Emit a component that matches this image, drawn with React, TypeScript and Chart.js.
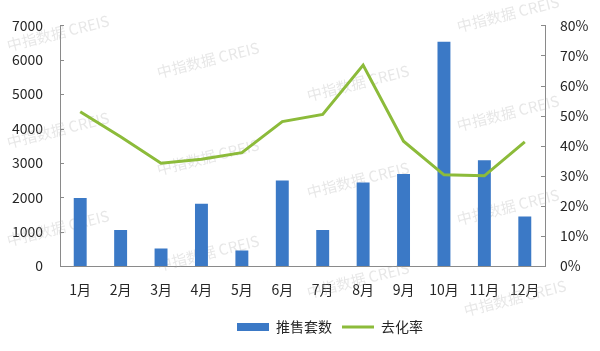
import React, { useEffect, useRef } from "react";
import { Chart, registerables } from "chart.js";

Chart.register(...registerables);

const months = ["1月", "2月", "3月", "4月", "5月", "6月", "7月", "8月", "9月", "10月", "11月", "12月"];
const supplyUnits = [1980, 1045, 510, 1810, 450, 2490, 1045, 2430, 2680, 6525, 3080, 1440];
const sellThroughRate = [51.3, 43.0, 34.2, 35.5, 37.7, 48.0, 50.4, 66.8, 41.5, 30.3, 30.0, 41.3];
const leftAxisMax = 7000;
const leftAxisStep = 1000;
const rightAxisMax = 80;
const rightAxisStep = 10;
const seriesNames = ["推售套数", "去化率"];
const watermarkText = "中指数据 CREIS";

const BAR_COLOR = "#3b79c6";
const LINE_COLOR = "#8cbb3a";
const AXIS_COLOR = "#8a8a8a";
const TEXT_COLOR = "#262626";
const FONT = "'Noto Sans CJK SC', 'Noto Sans', sans-serif";

const watermarkSpots: [number, number][] = [
  [58, 33], [58, 130], [58, 228],
  [208, 60], [208, 157], [208, 253],
  [358, 83], [358, 180], [358, 280],
  [508, 14], [508, 113], [508, 207], [515, 298],
];

const watermarkPlugin = {
  id: "watermark",
  beforeDatasetsDraw(chart: any) {
    const ctx = chart.ctx;
    ctx.save();
    ctx.font = `15px ${FONT}`;
    ctx.fillStyle = "rgba(170,170,170,0.28)";
    ctx.textAlign = "center";
    ctx.textBaseline = "middle";
    for (const [x, y] of watermarkSpots) {
      ctx.save();
      ctx.translate(x, y);
      ctx.rotate((-14 * Math.PI) / 180);
      ctx.fillText(watermarkText, 0, 0);
      ctx.restore();
    }
    ctx.restore();
  },
};

const tickMarkPlugin = {
  id: "innerTicks",
  afterDraw(chart: any) {
    const ctx = chart.ctx;
    const yl = chart.scales.y;
    const yr = chart.scales.y1;
    ctx.save();
    ctx.strokeStyle = AXIS_COLOR;
    ctx.lineWidth = 1;
    for (const t of yl.ticks) {
      const py = Math.round(yl.getPixelForValue(t.value)) + 0.5;
      ctx.beginPath();
      ctx.moveTo(yl.right, py);
      ctx.lineTo(yl.right + 4, py);
      ctx.stroke();
    }
    for (const t of yr.ticks) {
      const py = Math.round(yr.getPixelForValue(t.value)) + 0.5;
      ctx.beginPath();
      ctx.moveTo(yr.left, py);
      ctx.lineTo(yr.left - 4, py);
      ctx.stroke();
    }
    ctx.restore();
  },
};

const legendShiftPlugin = {
  id: "legendShift",
  afterLayout(chart: any) {
    const lg = chart.legend;
    if (lg) {
      lg.left += 30;
      lg.right += 30;
    }
  },
};

export default function App() {
  const ref = useRef<HTMLCanvasElement | null>(null);

  useEffect(() => {
    document.body.style.margin = "0";
    const canvas = ref.current;
    if (!canvas) return;
    const chart = new Chart(canvas, {
      type: "bar",
      data: {
        labels: months,
        datasets: [
          {
            type: "bar",
            label: seriesNames[0],
            data: supplyUnits,
            backgroundColor: BAR_COLOR,
            borderWidth: 0,
            barPercentage: 0.32,
            categoryPercentage: 1,
            yAxisID: "y",
            order: 2,
          },
          {
            type: "line",
            label: seriesNames[1],
            data: sellThroughRate,
            borderColor: LINE_COLOR,
            backgroundColor: LINE_COLOR,
            borderWidth: 3,
            pointRadius: 0,
            tension: 0,
            yAxisID: "y1",
            order: 1,
          } as any,
        ],
      },
      options: {
        animation: false,
        responsive: true,
        maintainAspectRatio: false,
        layout: { padding: { top: 18, bottom: 7, left: 0, right: 0 } },
        plugins: {
          tooltip: { enabled: false },
          legend: {
            position: "bottom",
            labels: {
              color: TEXT_COLOR,
              font: { size: 14, family: FONT },
              usePointStyle: true,
              pointStyleWidth: 32,
              boxHeight: 8,
              padding: 10,
              sort: (a: any, b: any) => a.datasetIndex - b.datasetIndex,
              generateLabels: () => [
                {
                  text: seriesNames[0],
                  fillStyle: BAR_COLOR,
                  strokeStyle: BAR_COLOR,
                  lineWidth: 0,
                  pointStyle: "rect",
                  datasetIndex: 0,
                  hidden: false,
                  fontColor: TEXT_COLOR,
                },
                {
                  text: seriesNames[1],
                  fillStyle: LINE_COLOR,
                  strokeStyle: LINE_COLOR,
                  lineWidth: 3,
                  pointStyle: "line",
                  datasetIndex: 1,
                  hidden: false,
                  fontColor: TEXT_COLOR,
                },
              ],
            },
          },
        },
        scales: {
          x: {
            grid: { display: false, drawTicks: false },
            border: { display: true, color: AXIS_COLOR, width: 1 },
            ticks: { color: TEXT_COLOR, font: { size: 14, family: FONT }, padding: 15, maxRotation: 0 },
            afterFit: (s: any) => {
              s.height = 44;
            },
          },
          y: {
            position: "left",
            min: 0,
            max: leftAxisMax,
            grid: { display: false, drawTicks: false },
            border: { display: true, color: AXIS_COLOR, width: 1 },
            ticks: {
              stepSize: leftAxisStep,
              color: TEXT_COLOR,
              font: { size: 14, family: FONT },
              padding: 17,
              callback: (v: any) => String(v),
            },
            afterFit: (s: any) => {
              s.width = 60;
            },
          },
          y1: {
            position: "right",
            min: 0,
            max: rightAxisMax,
            grid: { display: false, drawTicks: false, drawOnChartArea: false },
            border: { display: true, color: AXIS_COLOR, width: 1 },
            ticks: {
              stepSize: rightAxisStep,
              color: TEXT_COLOR,
              font: { size: 14, family: FONT },
              padding: 15,
              callback: (v: any) => `${v}%`,
            },
            afterFit: (s: any) => {
              s.width = 55;
            },
          },
        },
      },
      plugins: [watermarkPlugin, tickMarkPlugin, legendShiftPlugin],
    });
    return () => chart.destroy();
  }, []);

  return (
    <div style={{ width: 600, height: 351, position: "relative", background: "#fff" }}>
      <canvas ref={ref} />
    </div>
  );
}
